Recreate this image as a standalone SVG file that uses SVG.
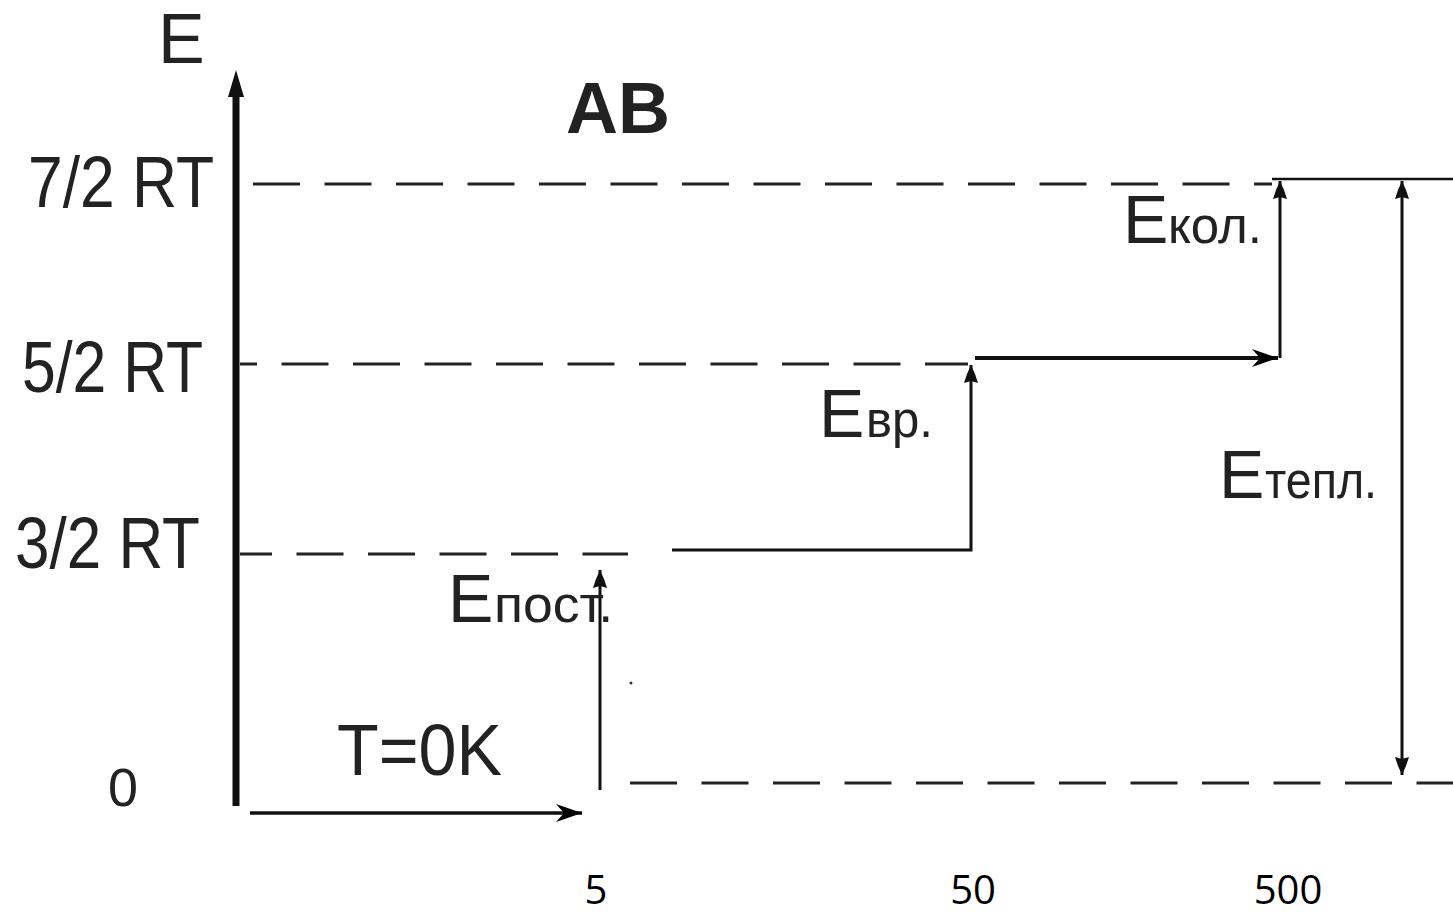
<svg xmlns="http://www.w3.org/2000/svg" width="1453" height="916" viewBox="0 0 1453 916">
<defs>
<style>
.lbl{font-family:"Liberation Sans",Arial,sans-serif;fill:#222;}
.big{font-size:72px;}
.cap{font-size:68px;}
.sub{font-size:52px;}
.num{font-family:"Open Sans","Noto Sans",sans-serif;font-size:40px;fill:#000;text-anchor:middle;}
.dash{stroke:#222;stroke-width:3;stroke-dasharray:47 24.5;fill:none;}
.ln{stroke:#111;fill:none;}
</style>
<marker id="stealth" markerUnits="userSpaceOnUse" markerWidth="30" markerHeight="22" refX="0" refY="0" viewBox="-28 -11 30 22" orient="auto">
<path d="M0,0 L-26,-9 L-18,0 L-26,9 Z" fill="#000"/>
</marker>
<marker id="small" markerUnits="userSpaceOnUse" markerWidth="22" markerHeight="16" refX="0" refY="0" viewBox="-20 -8 22 16" orient="auto-start-reverse">
<path d="M0,0 L-9,-4 L-18,-7 L-16,0 L-18,7 L-9,4 Z" fill="#111"/>
</marker>
</defs>

<g id="axis">
<line x1="236" y1="92" x2="236" y2="806" stroke="#111" stroke-width="7"/>
<polygon points="236,70 228,97 244,97" fill="#111"/>
<text class="lbl" x="158" y="63" font-size="70">E</text>
</g>

<g id="labels-left">
<text class="lbl big" x="28" y="207" textLength="186" lengthAdjust="spacingAndGlyphs">7/2 RT</text>
<text class="lbl big" x="22" y="392" textLength="181" lengthAdjust="spacingAndGlyphs">5/2 RT</text>
<text class="lbl big" x="15" y="568" textLength="185" lengthAdjust="spacingAndGlyphs">3/2 RT</text>
<text class="lbl" x="108" y="806" font-size="54" textLength="30" lengthAdjust="spacingAndGlyphs">0</text>
</g>

<g id="title">
<text x="566" y="133" font-family="Liberation Sans,Arial,sans-serif" font-weight="bold" font-size="72" fill="#222" textLength="104" lengthAdjust="spacingAndGlyphs">AB</text>
</g>

<g id="levels">
<line class="dash" x1="253" y1="184" x2="1272" y2="184"/>
<line class="dash" x1="240" y1="364" x2="968" y2="364" stroke-dashoffset="30"/>
<line class="dash" x1="240" y1="554" x2="628" y2="554" stroke-dashoffset="15"/>
<line class="dash" x1="630" y1="783" x2="1453" y2="783"/>
<line class="ln" x1="1272" y1="179" x2="1453" y2="179" stroke-width="2.5"/>
</g>

<g id="connectors">
<line class="ln" x1="250" y1="813" x2="582" y2="813" stroke-width="3.5" marker-end="url(#stealth)"/>
<line class="ln" x1="600" y1="790" x2="600" y2="570" stroke-width="3" marker-end="url(#small)"/>
<polyline class="ln" points="672,550 971,550 971,365" stroke-width="3" marker-end="url(#small)"/>
<line class="ln" x1="975" y1="358" x2="1278" y2="358" stroke="#000" stroke-width="4" marker-end="url(#stealth)"/>
<line class="ln" x1="1280" y1="358" x2="1280" y2="181" stroke-width="3" marker-end="url(#small)"/>
<line class="ln" x1="1402" y1="181" x2="1402" y2="775" stroke-width="3" marker-start="url(#small)" marker-end="url(#small)"/>
<circle cx="631" cy="683" r="1.5" fill="#333"/>
</g>

<g id="label-post">
<text class="lbl cap" x="448" y="622">E</text>
<text class="lbl sub" x="494" y="622" textLength="119" lengthAdjust="spacingAndGlyphs">пост.</text>
</g>
<g id="label-vr">
<text class="lbl cap" x="819" y="437">E</text>
<text class="lbl sub" x="866" y="437" textLength="67" lengthAdjust="spacingAndGlyphs">вр.</text>
</g>
<g id="label-kol">
<text class="lbl cap" x="1123" y="243">E</text>
<text class="lbl sub" x="1168" y="243" textLength="94" lengthAdjust="spacingAndGlyphs">кол.</text>
</g>
<g id="label-tepl">
<text class="lbl cap" x="1219" y="498">E</text>
<text class="lbl sub" x="1265" y="498" textLength="112" lengthAdjust="spacingAndGlyphs">тепл.</text>
</g>
<g id="label-T">
<text class="lbl big" x="337" y="775" textLength="165" lengthAdjust="spacingAndGlyphs">T=0K</text>
</g>

<g id="xlabels">
<text class="num" x="596" y="904">5</text>
<text class="num" x="973" y="904">50</text>
<text class="num" x="1288" y="904">500</text>
</g>
</svg>
